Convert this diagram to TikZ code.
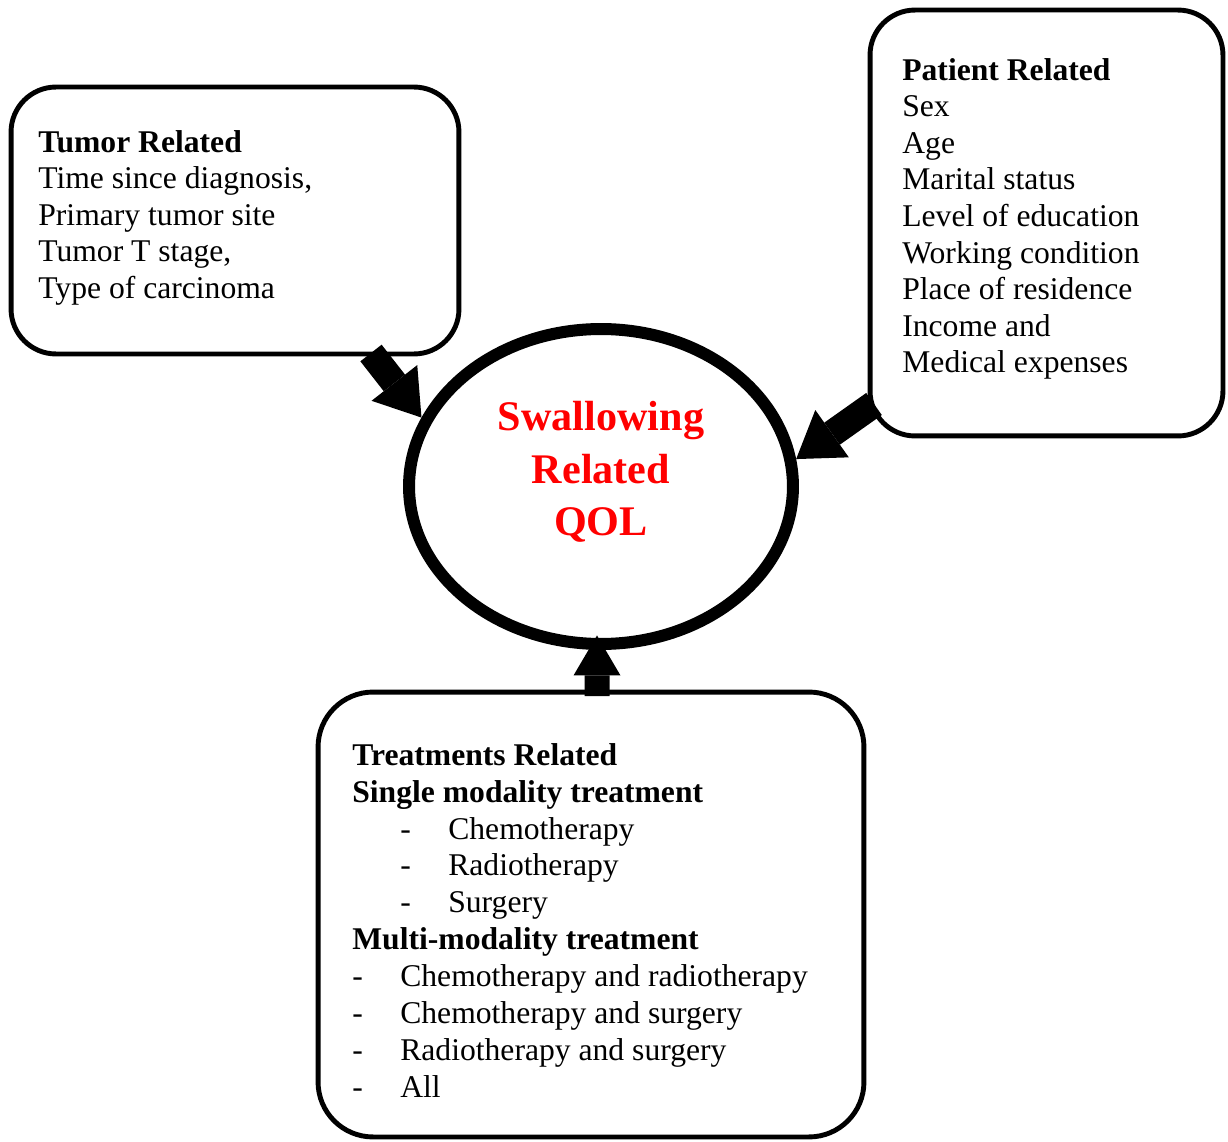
\documentclass[tikz,border=0pt]{standalone}
\usepackage{fontspec}
\setmainfont{Liberation Serif}
\usetikzlibrary{shapes.geometric,arrows.meta}
\definecolor{qolred}{RGB}{255, 0, 0}

\newcommand{\dashitem}[1]{\makebox[0.96cm][l]{-}#1}

\begin{document}
\begin{tikzpicture}[x=0.02cm, y=-0.02cm,
    factorbox/.style={draw, line width=2.8pt, rounded corners=0.9cm, inner sep=0pt},
    factortext/.style={anchor=north west, align=left, inner sep=0pt,
      font=\fontsize{18}{20.8}\selectfont},
    bigarrow/.style={line width=0.54cm,
      -{Triangle[width=1.16cm, length=0.88cm, line width=0pt]}},
    uparrow/.style={line width=0.5cm,
      -{Triangle[width=0.94cm, length=0.8cm, line width=0pt]}},
  ]
  \useasboundingbox (0,0) rectangle (1228,1142);

  % the three groups of factors
  \node[factorbox, minimum width=8.96cm, minimum height=5.34cm] (tumor) at (235,220.5) {};
  \node[factorbox, minimum width=7.06cm, minimum height=8.52cm] (patient) at (1046.5,223) {};
  \node[factorbox, minimum width=10.92cm, minimum height=8.9cm, rounded corners=1.1cm] (treat) at (591,914.5) {};

  % Label: texts inside the boxes
  \node[factortext] (tumortext) at (38,130) {\textbf{Tumor Related}\\
    Time since diagnosis,\\
    Primary tumor site\\
    Tumor T stage,\\
    Type of carcinoma};
  \node[factortext] (patienttext) at (902,58) {\textbf{Patient Related}\\
    Sex\\
    Age\\
    Marital status\\
    Level of education\\
    Working condition\\
    Place of residence\\
    Income and\\
    Medical expenses};
  \node[factortext, font=\fontsize{18}{21}\selectfont] (treattext) at (352,743) {\textbf{Treatments Related}\\
    \textbf{Single modality treatment}\\
    \hspace*{0.96cm}\dashitem{Chemotherapy}\\
    \hspace*{0.96cm}\dashitem{Radiotherapy}\\
    \hspace*{0.96cm}\dashitem{Surgery}\\
    \textbf{Multi-modality treatment}\\
    \dashitem{Chemotherapy and radiotherapy}\\
    \dashitem{Chemotherapy and surgery}\\
    \dashitem{Radiotherapy and surgery}\\
    \dashitem{All}};

  % outcome in the middle
  \node[ellipse, draw, line width=0.24cm, fill=white, inner sep=0pt,
    minimum width=7.68cm, minimum height=6.3cm] (qol) at (601,486.5) {};
  \node[align=center, inner sep=0pt, text=qolred,
    font=\fontsize{24}{30}\selectfont\bfseries] (qoltext) at (601,472) {Swallowing\\Related\\QOL};

  % arrows into the outcome
  \coordinate (tumorfoot) at (371,353);
  \coordinate (patientfoot) at (874,404);
  \coordinate (treattop) at (597,696);
  \draw[bigarrow] (tumorfoot) -- (qol.159);
  \draw[bigarrow] (patientfoot) -- (qol.8);
  \draw[uparrow] (treattop) -- ([xshift=-0.08cm, yshift=0.29cm]qol.south);
\end{tikzpicture}
\end{document}
